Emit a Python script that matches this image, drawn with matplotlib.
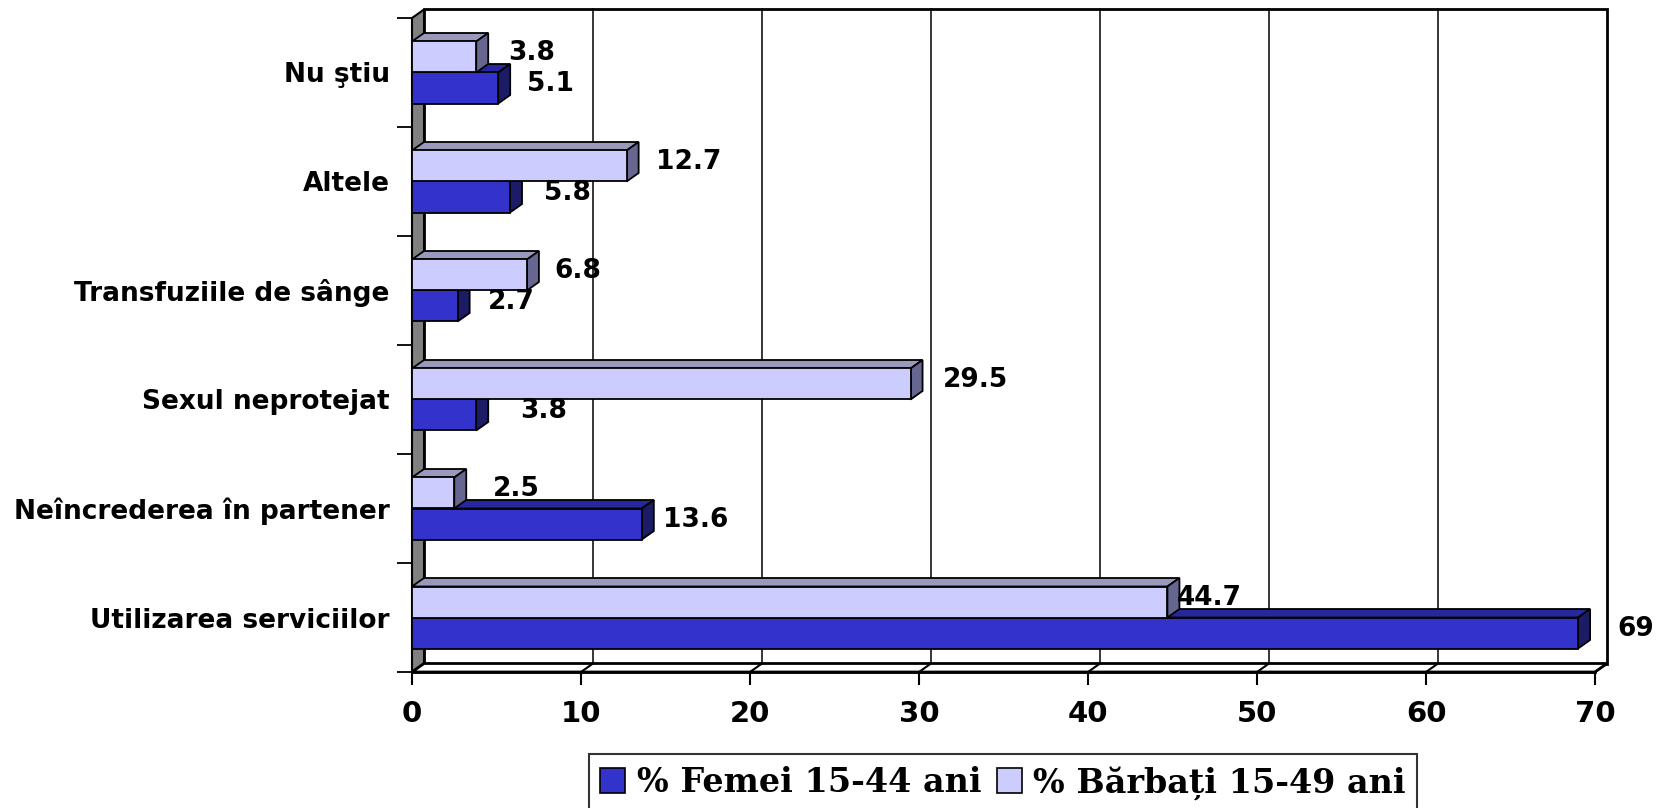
import numpy as np
import matplotlib
matplotlib.use('Agg')
import matplotlib.pyplot as plt
from matplotlib.patches import Polygon, Rectangle

# categories listed bottom to top
categories = ['Utilizarea serviciilor', 'Neîncrederea în partener', 'Sexul neprotejat',
              'Transfuziile de sânge', 'Altele', 'Nu ştiu']
femei = [69, 13.6, 3.8, 2.7, 5.8, 5.1]
barbati = [44.7, 2.5, 29.5, 6.8, 12.7, 3.8]
x_ticks = [0, 10, 20, 30, 40, 50, 60, 70]
legend_labels = ['% Femei 15-44 ani', '% Bărbați 15-49 ani']

# label nudges (pixels from the bar end)
nudge_f = [58, 54, 67, 54, 57, 52]
nudge_b = [42, 62, 65, 51, 62, 55]

COL = {
    'f_front': '#3333CC', 'f_top': '#27279E', 'f_side': '#1C1C66',
    'b_front': '#CCCCFF', 'b_top': '#9999BB', 'b_side': '#666690',
    'wall': '#808080',
}

W, H = 1663, 808
fig = plt.figure(figsize=(W / 100, H / 100), dpi=100, facecolor='white')
x0, x1, yb, yt = 412, 1595, 672, 18
ax = fig.add_axes([x0 / W, 1 - yb / H, (x1 - x0) / W, (yb - yt) / H])
XMAX, NCAT = 70, len(categories)
ax.set_xlim(0, XMAX)
ax.set_ylim(0, NCAT)

# depth of the 3D effect in data units
dx = 12 * XMAX / (x1 - x0)
dy = 8.5 * NCAT / (yb - yt)
bh = 31 * NCAT / (yb - yt)
EW = 1.3

# walls and floor
ax.add_patch(Polygon([(dx, dy), (XMAX + dx, dy), (XMAX + dx, NCAT + dy), (dx, NCAT + dy)],
                     closed=True, fc='white', ec='black', lw=2, clip_on=False, zorder=0))
ax.add_patch(Polygon([(0, 0), (dx, dy), (dx, NCAT + dy), (0, NCAT)],
                     closed=True, fc=COL['wall'], ec='black', lw=1.5, clip_on=False, zorder=1))
ax.add_patch(Polygon([(0, 0), (XMAX, 0), (XMAX + dx, dy), (dx, dy)],
                     closed=True, fc='white', ec='black', lw=2, clip_on=False, zorder=1))
for t in x_ticks[1:-1]:
    ax.plot([t + dx, t + dx], [dy, NCAT + dy], color='black', lw=1.1, clip_on=False, zorder=0.5)
for t in x_ticks[1:]:
    ax.plot([t, t + dx], [0, dy], color='black', lw=1.5, clip_on=False, zorder=1.2)


def bar3d(v, y, front, top, side, z):
    ax.add_patch(Polygon([(0, y + bh), (v, y + bh), (v + dx, y + bh + dy), (dx, y + bh + dy)],
                         closed=True, fc=top, ec='black', lw=EW, clip_on=False, zorder=z))
    ax.add_patch(Polygon([(v, y), (v + dx, y + dy), (v + dx, y + bh + dy), (v, y + bh)],
                         closed=True, fc=side, ec='black', lw=EW, clip_on=False, zorder=z))
    ax.add_patch(Rectangle((0, y), v, bh, fc=front, ec='black', lw=EW, clip_on=False, zorder=z))


lbl = dict(fontsize=19, fontweight='bold', family='DejaVu Sans', ha='center', va='center',
           textcoords='offset pixels', annotation_clip=False, zorder=20)
for i in range(NCAT):
    c = i + 0.5
    bar3d(femei[i], c - bh, COL['f_front'], COL['f_top'], COL['f_side'], 2 + 2 * i)
    bar3d(barbati[i], c, COL['b_front'], COL['b_top'], COL['b_side'], 3 + 2 * i)
    ax.annotate(f'{femei[i]:g}', (femei[i], c - bh / 2), xytext=(nudge_f[i], 4), **lbl)
    ax.annotate(f'{barbati[i]:g}', (barbati[i], c + bh / 2), xytext=(nudge_b[i], 4), **lbl)

# axes ticks and labels
ax.set_xticks(x_ticks)
ax.set_xticklabels([str(t) for t in x_ticks], fontsize=21, fontweight='bold', family='DejaVu Sans')
ax.tick_params(axis='x', direction='out', length=9, width=1.5, pad=11)
ax.set_yticks(np.arange(NCAT + 1))
ax.set_yticklabels([])
ax.tick_params(axis='y', which='major', direction='out', length=10.5, width=1.3)
ax.set_yticks(np.arange(NCAT) + 0.5, minor=True)
ax.set_yticklabels(categories, minor=True, fontsize=19, fontweight='bold', family='DejaVu Sans')
ax.tick_params(axis='y', which='minor', length=0, pad=16)
for s in ['top', 'right', 'left']:
    ax.spines[s].set_visible(False)
ax.spines['bottom'].set_linewidth(2)
ax.spines['bottom'].set_zorder(1.5)
ax.patch.set_visible(False)

handles = [Rectangle((0, 0), 1, 1, fc=COL['f_front'], ec='black', lw=1.2),
           Rectangle((0, 0), 1, 1, fc=COL['b_front'], ec='black', lw=1.2)]
leg = fig.legend(handles, legend_labels, loc='upper center', bbox_to_anchor=(1003 / W, 1 - 754 / H),
                 ncol=2, frameon=True, fancybox=False, shadow=False, borderaxespad=0,
                 handlelength=0.75, handleheight=0.75, handletextpad=0.35, columnspacing=0.45,
                 borderpad=0.35, prop={'family': 'DejaVu Serif', 'weight': 'bold', 'size': 24})
leg.get_frame().set_edgecolor('black')
leg.get_frame().set_linewidth(1.5)

fig.savefig('out.png', dpi=100, facecolor='white')
